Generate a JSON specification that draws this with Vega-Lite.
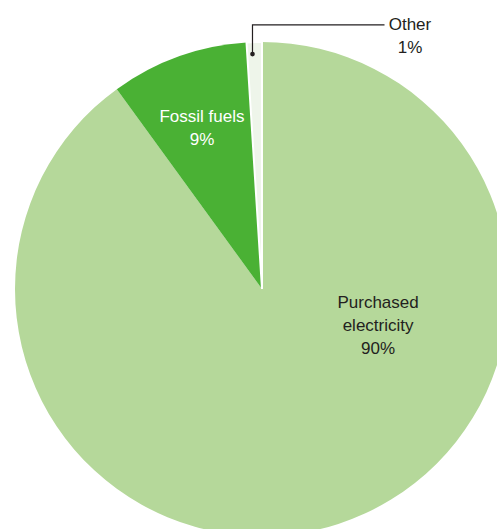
{
  "$schema": "https://vega.github.io/schema/vega-lite/v6.json",
  "width": 497,
  "height": 529,
  "padding": 0,
  "autosize": {"type": "none"},
  "background": "white",
  "config": {"view": {"stroke": null}, "font": "Liberation Sans"},
  "datasets": {
    "shares": [
      {"source": "Purchased electricity", "pct": 90, "rank": 1},
      {"source": "Fossil fuels", "pct": 9, "rank": 2},
      {"source": "Other", "pct": 1, "rank": 3}
    ],
    "labels": [
      {"source": "Purchased electricity", "text": "Purchased\nelectricity\n90%", "lx": 0.470, "ly": -0.0567},
      {"source": "Fossil fuels", "text": "Fossil fuels\n9%", "lx": -0.243, "ly": 0.696},
      {"source": "Other", "text": "Other\n1%", "lx": 0.599, "ly": 1.067}
    ],
    "leader": [
      {"step": 1, "lx": -0.0385, "ly": 0.951},
      {"step": 2, "lx": -0.0385, "ly": 1.069},
      {"step": 3, "lx": 0.496, "ly": 1.069}
    ]
  },
  "layer": [
    {
      "data": {"name": "shares"},
      "mark": {"type": "arc", "outerRadius": 247, "stroke": "white"},
      "encoding": {
        "theta": {"field": "pct", "type": "quantitative", "stack": true},
        "order": {"field": "rank", "type": "quantitative"},
        "color": {
          "field": "source", "type": "nominal", "legend": null,
          "scale": {"domain": ["Purchased electricity", "Fossil fuels", "Other"], "range": ["#b5d89a", "#4ab134", "#eef5ea"]}
        },
        "strokeWidth": {"condition": {"test": "datum.source == 'Other'", "value": 2}, "value": 0},
        "x": {"datum": 0, "type": "quantitative", "scale": {"domain": [-1.0607, 0.9514], "nice": false, "zero": false}, "axis": null},
        "y": {"datum": 0, "type": "quantitative", "scale": {"domain": [-0.9717, 1.17], "nice": false, "zero": false}, "axis": null}
      }
    },
    {
      "data": {"name": "leader"},
      "mark": {"type": "line", "color": "#231f20", "strokeWidth": 1.2},
      "encoding": {
        "x": {"field": "lx", "type": "quantitative", "scale": {"domain": [-1.0607, 0.9514], "nice": false, "zero": false}, "axis": null},
        "y": {"field": "ly", "type": "quantitative", "scale": {"domain": [-0.9717, 1.17], "nice": false, "zero": false}, "axis": null},
        "order": {"field": "step", "type": "quantitative"}
      }
    },
    {
      "data": {"name": "leader"},
      "transform": [{"filter": "datum.step == 1"}],
      "mark": {"type": "point", "filled": true, "color": "#231f20", "size": 22, "opacity": 1},
      "encoding": {
        "x": {"field": "lx", "type": "quantitative", "scale": {"domain": [-1.0607, 0.9514], "nice": false, "zero": false}, "axis": null},
        "y": {"field": "ly", "type": "quantitative", "scale": {"domain": [-0.9717, 1.17], "nice": false, "zero": false}, "axis": null}
      }
    },
    {
      "data": {"name": "labels"},
      "mark": {"type": "text", "fontSize": 17, "lineBreak": "\n", "lineHeight": 23, "baseline": "middle", "align": "center"},
      "encoding": {
        "x": {"field": "lx", "type": "quantitative", "scale": {"domain": [-1.0607, 0.9514], "nice": false, "zero": false}, "axis": null},
        "y": {"field": "ly", "type": "quantitative", "scale": {"domain": [-0.9717, 1.17], "nice": false, "zero": false}, "axis": null},
        "text": {"field": "text", "type": "nominal"},
        "color": {
          "field": "source", "type": "nominal", "legend": null,
          "scale": {"domain": ["Purchased electricity", "Fossil fuels", "Other"], "range": ["#231f20", "#ffffff", "#231f20"]}
        }
      }
    }
  ],
  "resolve": {"scale": {"color": "independent"}}
}
